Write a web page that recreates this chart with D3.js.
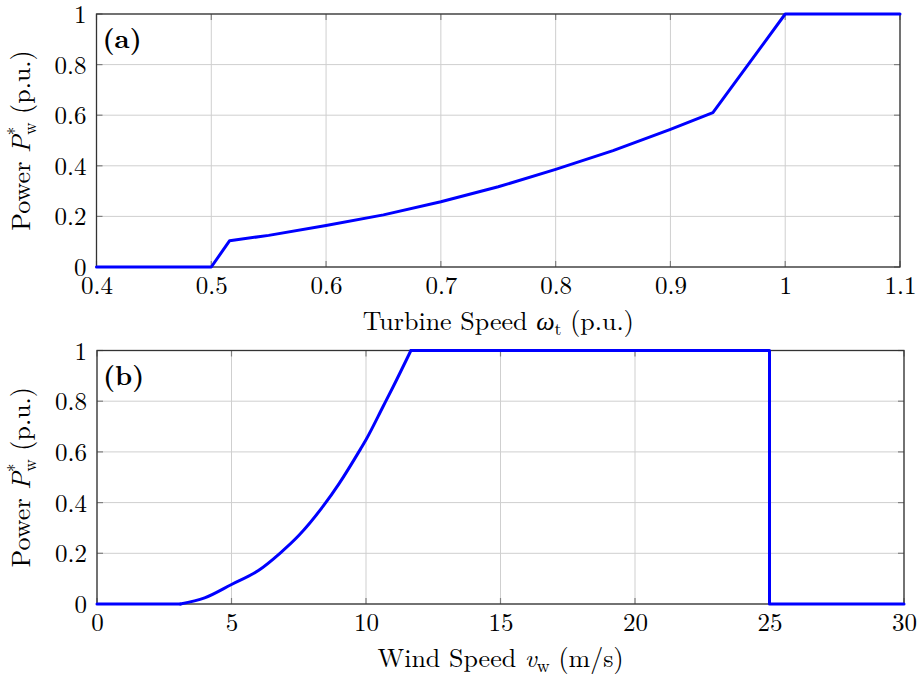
<!DOCTYPE html>
<html>
<head>
<meta charset="utf-8">
<script src="https://cdn.jsdelivr.net/npm/d3@7"></script>
<style>
  body { margin: 0; background: #fff; }
  text { font-family: "Latin Modern Roman", "CMU Serif", "Liberation Serif", serif; fill: #000; }
</style>
</head>
<body>
<div id="chart"></div>
<script>
// panel (a): power reference vs turbine speed
var speedA = [0.4, 0.5, 0.516, 0.55, 0.6, 0.65, 0.7, 0.75, 0.8, 0.85, 0.9, 0.937, 1.0, 1.1];
var powerA = [0, 0, 0.104, 0.125, 0.164, 0.206, 0.258, 0.317, 0.386, 0.46, 0.544, 0.61, 1, 1];
var ticksXA = [0.4, 0.5, 0.6, 0.7, 0.8, 0.9, 1, 1.1];
var labelsXA = ["0.4", "0.5", "0.6", "0.7", "0.8", "0.9", "1", "1.1"];

// panel (b): power reference vs wind speed
// smooth part (cut-in to rated) and the straight parts around it
var windCurveB = [3.1, 4, 5, 6, 6.8, 7.5, 8.4, 9, 9.8, 10, 10.64, 11, 11.67];
var powerCurveB = [0, 0.024, 0.077, 0.132, 0.2, 0.27, 0.385, 0.475, 0.612, 0.648, 0.78, 0.855, 1];
var windFlatB = [11.67, 25, 25, 30];
var powerFlatB = [1, 1, 0, 0];
var windLowB = [0, 3.1];
var powerLowB = [0, 0];
var ticksXB = [0, 5, 10, 15, 20, 25, 30];
var labelsXB = ["0", "5", "10", "15", "20", "25", "30"];

var ticksY = [0, 0.2, 0.4, 0.6, 0.8, 1];
var labelsY = ["0", "0.2", "0.4", "0.6", "0.8", "1"];

var svg = d3.select("#chart")
  .append("svg")
  .attr("width", 920)
  .attr("height", 675);

function drawPanel(opt) {
  var width = opt.right - opt.left,
    height = opt.bottom - opt.top;

  var g = svg.append("g")
    .attr("transform", "translate(" + opt.left + "," + opt.top + ")");

  var x = d3.scaleLinear().domain(opt.xDomain).range([0, width]);
  var y = d3.scaleLinear().domain([0, 1]).range([height, 0]);

  // grid
  g.append("g")
    .selectAll("line.vg")
    .data(opt.xTicks)
    .enter()
    .append("line")
    .attr("x1", d => x(d)).attr("x2", d => x(d))
    .attr("y1", 0).attr("y2", height)
    .attr("stroke", "#cfcfcf")
    .attr("stroke-width", 1);
  g.append("g")
    .selectAll("line.hg")
    .data(ticksY)
    .enter()
    .append("line")
    .attr("x1", 0).attr("x2", width)
    .attr("y1", d => y(d)).attr("y2", d => y(d))
    .attr("stroke", "#cfcfcf")
    .attr("stroke-width", 1);

  // inner tick marks on all four sides
  var tk = 6;
  [0, height].forEach(function (yy, i) {
    g.append("g").selectAll("line")
      .data(opt.xTicks).enter().append("line")
      .attr("x1", d => x(d)).attr("x2", d => x(d))
      .attr("y1", yy).attr("y2", i ? yy - tk : yy + tk)
      .attr("stroke", "#808080").attr("stroke-width", 1.2);
  });
  [0, width].forEach(function (xx, i) {
    g.append("g").selectAll("line")
      .data(ticksY).enter().append("line")
      .attr("y1", d => y(d)).attr("y2", d => y(d))
      .attr("x1", xx).attr("x2", i ? xx - tk : xx + tk)
      .attr("stroke", "#808080").attr("stroke-width", 1.2);
  });

  // frame
  g.append("rect")
    .attr("width", width).attr("height", height)
    .attr("fill", "none")
    .attr("stroke", "#333")
    .attr("stroke-width", 1.3);

  // x axis labels
  var xAxis = g.append("g")
    .attr("transform", "translate(0," + height + ")")
    .call(d3.axisBottom(x).tickValues(opt.xTicks).tickSize(0)
      .tickFormat((d, i) => opt.xLabels[i]));
  xAxis.select(".domain").remove();
  xAxis.selectAll("text")
    .attr("y", 27).attr("dy", 0)
    .style("font-size", "25px")
    .style("font-family", null);

  // y axis labels
  var yAxis = g.append("g")
    .call(d3.axisLeft(y).tickValues(ticksY).tickSize(0)
      .tickFormat((d, i) => labelsY[i]));
  yAxis.select(".domain").remove();
  yAxis.selectAll("text")
    .attr("x", -10).attr("dy", "0.34em")
    .style("font-size", "25px")
    .style("font-family", null);

  // the curve, drawn on top of the frame
  var line = d3.line().x(d => x(d[0])).y(d => y(d[1]));
  opt.series.forEach(function (s) {
    var pts = s.xs.map((d, i) => [d, s.ys[i]]);
    g.append("path")
      .datum(pts)
      .attr("fill", "none")
      .attr("stroke", "#0000ff")
      .attr("stroke-width", 3)
      .attr("stroke-linejoin", "round")
      .attr("stroke-linecap", "round")
      .attr("d", line.curve(s.smooth ? d3.curveMonotoneX : d3.curveLinear));
  });

  // panel tag
  g.append("text")
    .attr("x", 6).attr("y", 34)
    .style("font-size", "27px")
    .style("font-weight", "bold")
    .text(opt.tag);

  // y label: Power P*_w (p.u.)
  var yl = svg.append("text")
    .attr("transform", "translate(30," + (opt.top + height / 2) + ") rotate(-90)")
    .attr("text-anchor", "middle")
    .style("font-size", "26px");
  yl.append("tspan").text("Power ");
  yl.append("tspan").style("font-style", "italic").text("P");
  yl.append("tspan").attr("dy", -10).style("font-size", "17px").text("*");
  yl.append("tspan").attr("dx", -8).attr("dy", 16).style("font-size", "17px").text("w");
  yl.append("tspan").attr("dy", -6).text(" (p.u.)");

  // x label
  var xl = svg.append("text")
    .attr("x", opt.left + width / 2)
    .attr("y", opt.bottom + 63)
    .attr("text-anchor", "middle")
    .style("font-size", "26px");
  xl.append("tspan").text(opt.xTitle[0] + " ");
  xl.append("tspan").style("font-style", "italic").text(opt.xTitle[1]);
  xl.append("tspan").attr("dy", 5).style("font-size", "18px").text(opt.xTitle[2]);
  xl.append("tspan").attr("dy", -5).text(" " + opt.xTitle[3]);
}

drawPanel({
  left: 96.5, right: 900, top: 14, bottom: 267,
  xDomain: [0.4, 1.1], xTicks: ticksXA, xLabels: labelsXA,
  series: [{ xs: speedA, ys: powerA, smooth: false }],
  tag: "(a)",
  xTitle: ["Turbine Speed", "\u03c9", "t", "(p.u.)"]
});

drawPanel({
  left: 97, right: 904, top: 350.5, bottom: 604,
  xDomain: [0, 30], xTicks: ticksXB, xLabels: labelsXB,
  series: [
    { xs: windLowB, ys: powerLowB, smooth: false },
    { xs: windCurveB, ys: powerCurveB, smooth: true },
    { xs: windFlatB, ys: powerFlatB, smooth: false }
  ],
  tag: "(b)",
  xTitle: ["Wind Speed", "v", "w", "(m/s)"]
});
</script>
</body>
</html>
